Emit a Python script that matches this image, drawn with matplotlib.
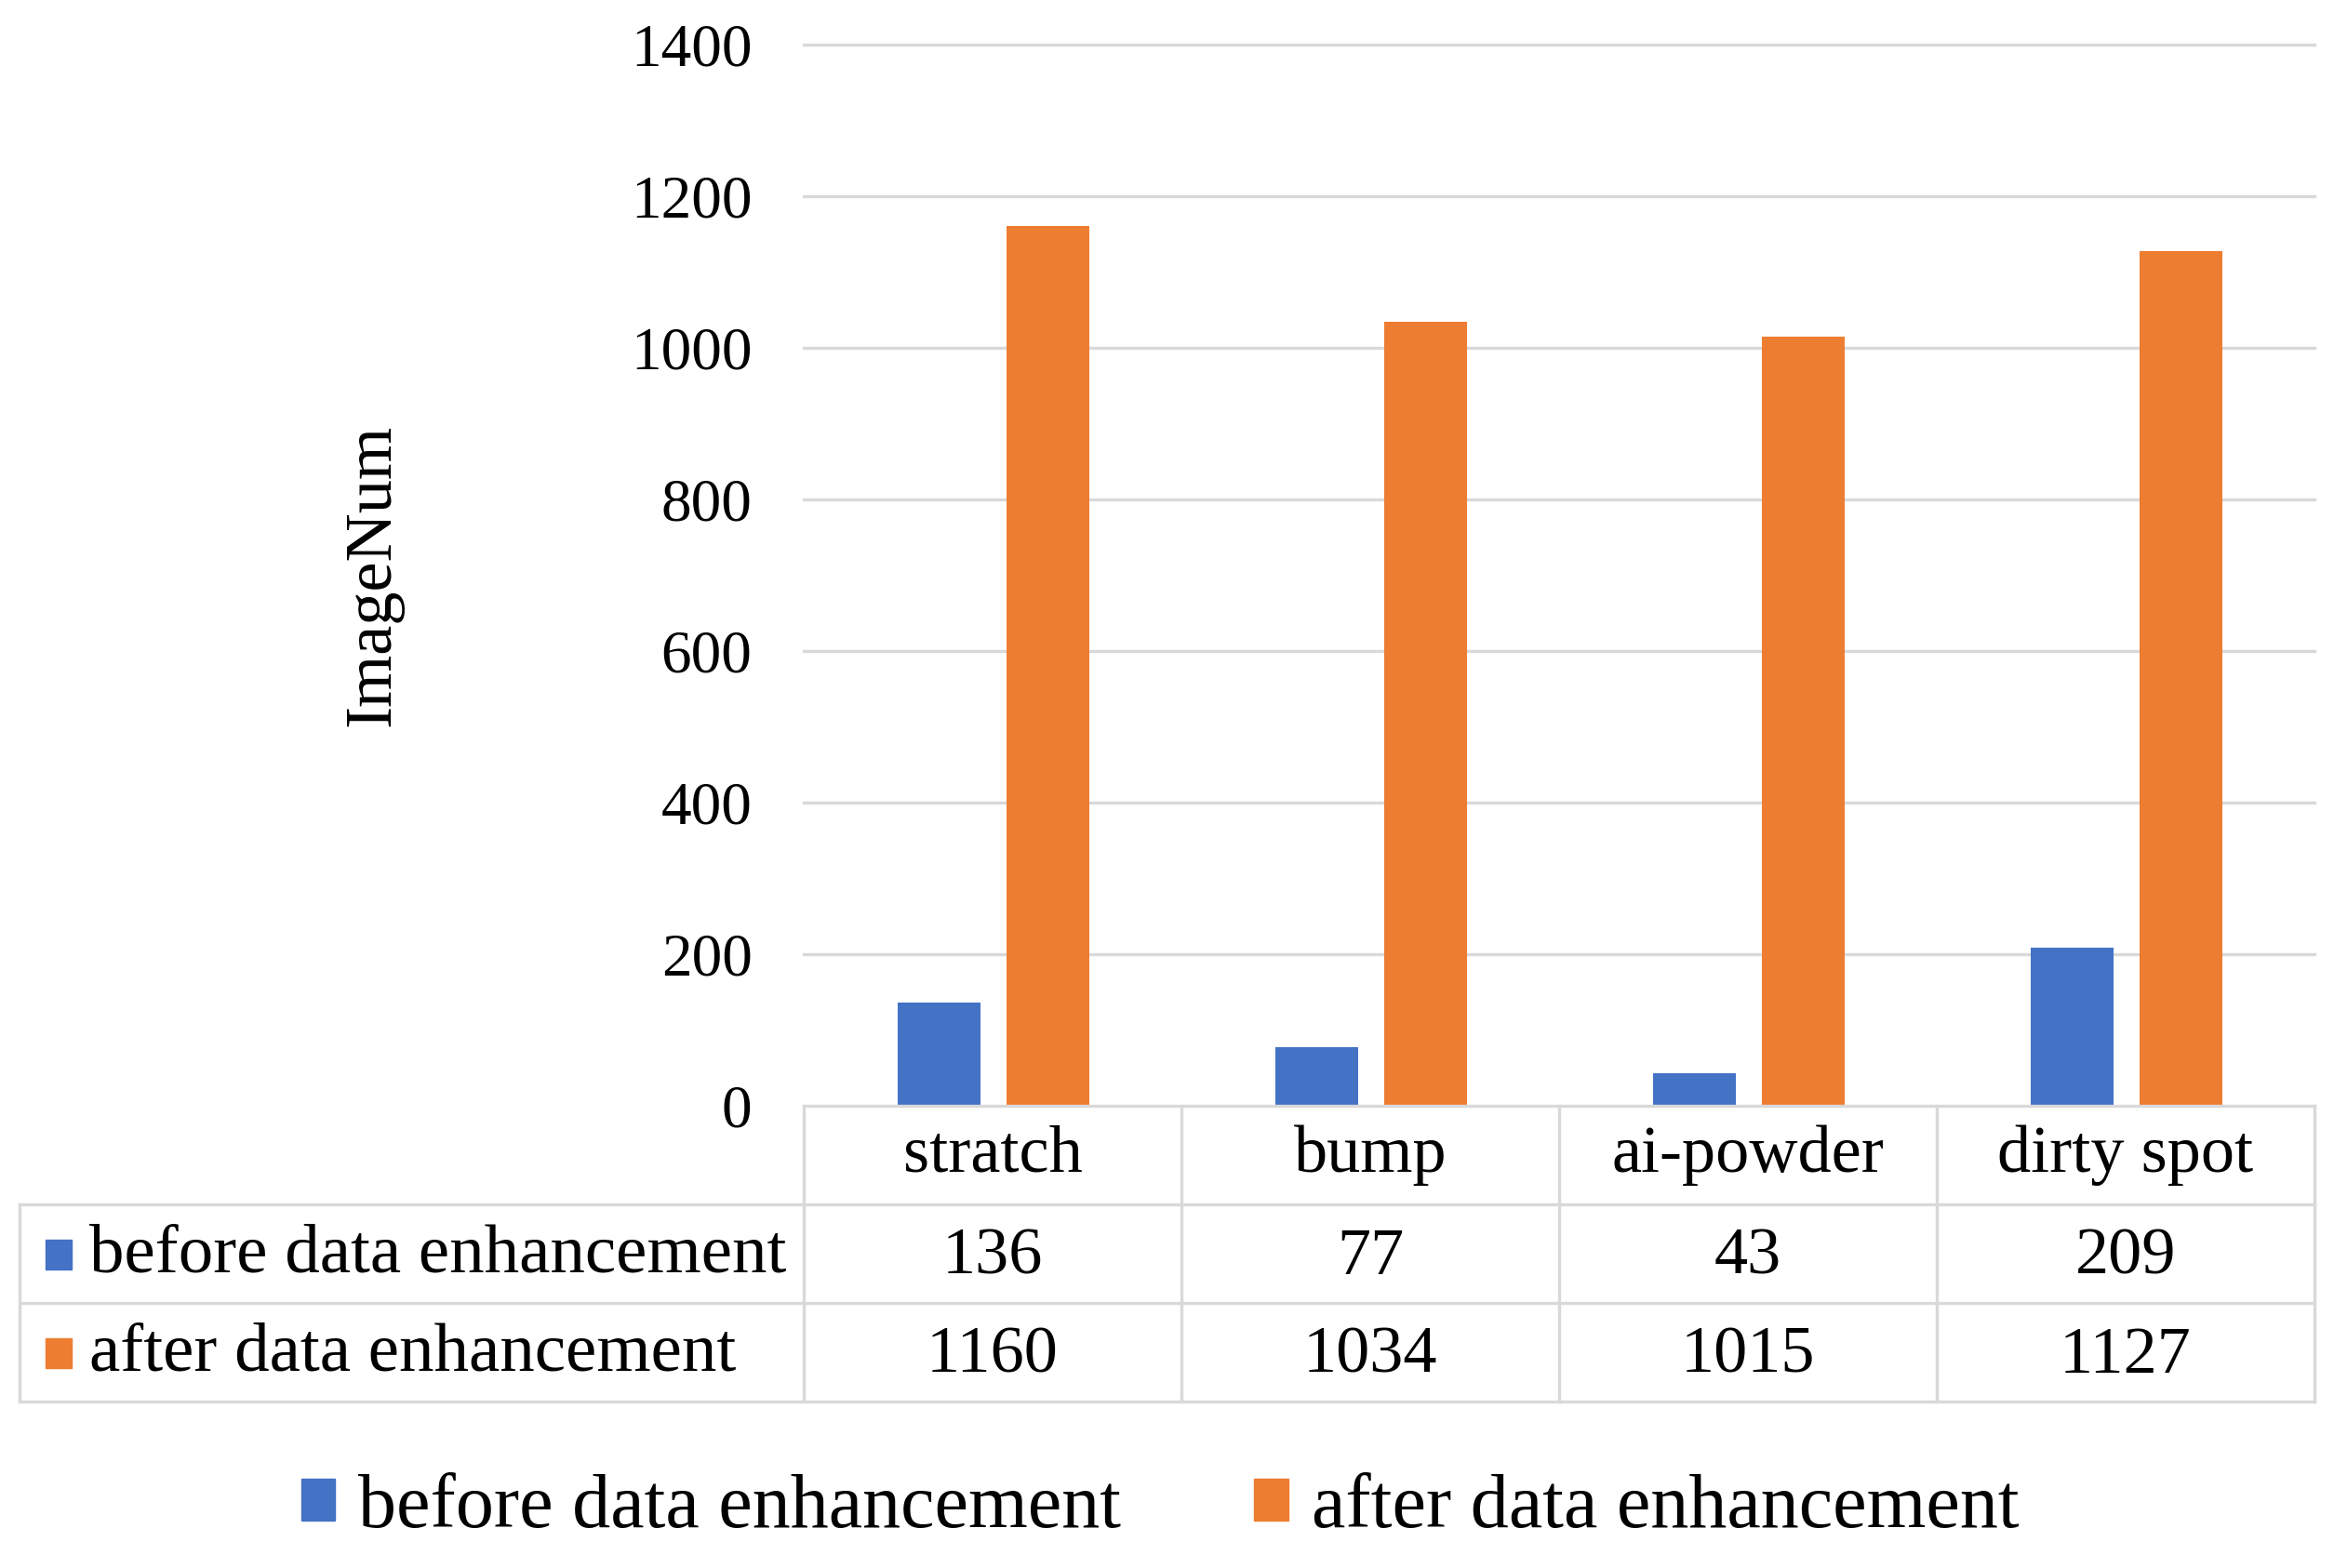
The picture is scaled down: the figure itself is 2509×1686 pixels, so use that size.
import matplotlib.pyplot as plt
from matplotlib.patches import Rectangle

categories = ['stratch', 'bump', 'ai-powder', 'dirty spot']
before = [136, 77, 43, 209]
after = [1160, 1034, 1015, 1127]
series_names = ['before data enhancement', 'after data enhancement']
yticks = [0, 200, 400, 600, 800, 1000, 1200, 1400]

blue = '#4472C4'
orange = '#ED7D31'
grid_c = '#D9D9D9'

plt.rcParams['font.family'] = ['Liberation Serif', 'DejaVu Serif']

fig = plt.figure(figsize=(25.09, 16.86), dpi=100)

# main chart area
ax = fig.add_axes([0.3444, 0.2948, 0.6473, 0.6768])
x = [i + 0.5 for i in range(len(categories))]
w = 0.22
ax.bar([v - 0.142 for v in x], before, width=w, color=blue, zorder=3)
ax.bar([v + 0.146 for v in x], after, width=w, color=orange, zorder=3)
ax.set_xlim(0, 4)
ax.set_ylim(0, 1400)
ax.set_yticks(yticks)
ax.set_yticklabels([str(t) for t in yticks], fontsize=47)
ax.tick_params(axis='y', length=0, pad=40)
ax.set_xticks([])
for t in yticks[1:]:
    ax.axhline(t, color=grid_c, lw=2.4, zorder=1, clip_on=False)
for s in ax.spines.values():
    s.set_visible(False)
ax.set_ylabel('ImageNum', fontsize=52, labelpad=176)

# data table below the chart
tab = fig.add_axes([21 / 2509, 0.1062, (2488 - 21) / 2509, 0.1886])
left = (21 - 864) / 406.0
tab.set_xlim(left, 4)
tab.set_ylim(3, 0)
tab.axis('off')
lw = 2.4
tab.plot([0, 4], [0, 0], color=grid_c, lw=lw, clip_on=False)
for r in [1, 2, 3]:
    tab.plot([left, 4], [r, r], color=grid_c, lw=lw, clip_on=False)
tab.plot([left, left], [1, 3], color=grid_c, lw=lw, clip_on=False)
for c in range(5):
    tab.plot([c, c], [0, 3], color=grid_c, lw=lw, clip_on=False)

for i, cat in enumerate(categories):
    tab.text(i + 0.5, 0.5, cat, ha='center', va='center', fontsize=52)
    tab.text(i + 0.5, 1.54, str(before[i]), ha='center', va='center', fontsize=52)
    tab.text(i + 0.5, 2.54, str(after[i]), ha='center', va='center', fontsize=52)

for r, (name, col) in enumerate(zip(series_names, [blue, orange])):
    tab.add_patch(Rectangle((left + 0.07, r + 1.36), 0.068, 0.3, color=col, clip_on=False))
    tab.text(left + 0.185, r + 1.52, name, ha='left', va='center', fontsize=54)

# legend
h1 = Rectangle((0, 0), 1, 1, color=blue)
h2 = Rectangle((0, 0), 1, 1, color=orange)
fig.legend([h1, h2], series_names, loc='center', bbox_to_anchor=(0.497, 0.038),
           ncol=2, frameon=False, fontsize=59, handlelength=0.45, handleheight=0.45,
           handletextpad=0.3, columnspacing=1.75)

fig.savefig('out.png', dpi=100)
